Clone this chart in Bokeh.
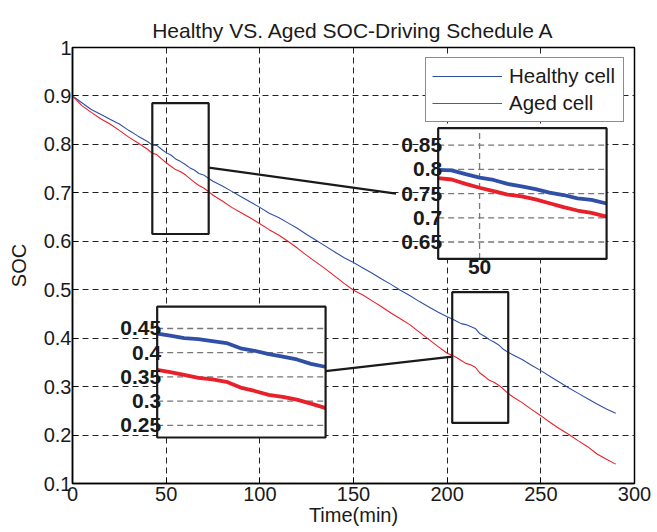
import numpy as np
from bokeh.plotting import figure
from bokeh.models import (FixedTicker, PrintfTickFormatter, Legend, LegendItem, Range1d)
from bokeh.core.properties import value
from bokeh.embed import file_html
from bokeh.resources import INLINE

# ---------------- data ----------------
time_min = [0, 5, 10, 15, 20, 25, 30, 35, 40,
            42.5, 45, 47.5, 50, 52.5, 55, 57.5, 60, 62.5, 65, 67.5, 70, 72.5,
            75, 80, 85, 90, 95, 100, 105, 110, 115, 120, 125, 130, 135, 140, 145,
            150, 155, 160, 165, 170, 175, 180, 185, 190, 195, 200,
            202.5, 205, 207.5, 210, 212.5, 215, 217.5, 220, 222.5, 225, 227.5, 230, 232.5,
            235, 240, 245, 250, 255, 260, 265, 270, 275, 280, 285, 290]
healthy_soc = [0.900, 0.886, 0.872, 0.862, 0.852, 0.842, 0.829, 0.817, 0.806,
               0.799, 0.798, 0.790, 0.783, 0.778, 0.770, 0.765, 0.759, 0.752, 0.747,
               0.740, 0.737, 0.730,
               0.724, 0.714, 0.703, 0.692, 0.681, 0.670, 0.658, 0.649, 0.638, 0.627,
               0.614, 0.602, 0.590, 0.578, 0.566,
               0.556, 0.545, 0.534, 0.522, 0.511, 0.499, 0.488, 0.476, 0.465, 0.454, 0.444,
               0.440, 0.435, 0.430, 0.428, 0.424, 0.420, 0.409, 0.404, 0.397, 0.392,
               0.386, 0.377, 0.371,
               0.366, 0.356, 0.344, 0.333, 0.321, 0.309, 0.297, 0.286, 0.275, 0.264,
               0.254, 0.245]
aged_soc = [0.900, 0.880, 0.866, 0.853, 0.842, 0.829, 0.815, 0.803, 0.790,
            0.782, 0.779, 0.770, 0.762, 0.755, 0.748, 0.744, 0.738, 0.730, 0.722,
            0.715, 0.710, 0.703,
            0.695, 0.683, 0.670, 0.659, 0.648, 0.636, 0.624, 0.613, 0.600, 0.586,
            0.571, 0.557, 0.543, 0.528, 0.513,
            0.499, 0.489, 0.477, 0.465, 0.452, 0.440, 0.428, 0.413, 0.398, 0.383, 0.369,
            0.365, 0.360, 0.354, 0.348, 0.345, 0.340, 0.328, 0.321, 0.313, 0.309,
            0.303, 0.295, 0.286,
            0.279, 0.267, 0.253, 0.240, 0.226, 0.213, 0.201, 0.188, 0.176, 0.161,
            0.150, 0.140]

x_ticks = [0, 50, 100, 150, 200, 250, 300]
y_ticks = [0.1, 0.2, 0.3, 0.4, 0.5, 0.6, 0.7, 0.8, 0.9, 1.0]
title_text = "Healthy VS. Aged SOC-Driving Schedule A"
x_label = "Time(min)"
y_label = "SOC"
series_names = ["Healthy cell", "Aged cell"]

# zoom insets: source window, inset box (main data coords), inset ticks, connector
upper_src_x = (42.6, 72.7)
upper_src_y = (0.615, 0.885)
upper_box_x = (195.2, 285.1)
upper_box_y = (0.5635, 0.8335)
upper_yticks = [0.65, 0.7, 0.75, 0.8, 0.85]
upper_ytick_labels = ["0.65", "0.7", "0.75", "0.8", "0.85"]
upper_xticks = [50]
upper_xtick_labels = ["50"]
upper_link_value = 0.752

lower_src_x = (202.7, 232.6)
lower_src_y = (0.225, 0.495)
lower_box_x = (45.2, 135.1)
lower_box_y = (0.195, 0.465)
lower_yticks = [0.25, 0.3, 0.35, 0.4, 0.45]
lower_ytick_labels = ["0.25", "0.3", "0.35", "0.4", "0.45"]
lower_link_value = 0.362

# ---------------- style ----------------
FONT = "Liberation Sans"
TXT = "#1a1a1a"
BLUE = "#3050a8"
RED = "#e8202a"

p = figure(width=657, height=532, output_backend="svg", toolbar_location=None,
           x_range=Range1d(0, 300), y_range=Range1d(0.1, 1.0),
           min_border_left=72, min_border_right=23, min_border_top=47,
           min_border_bottom=49, title=title_text)
p.title.text_font = FONT
p.title.text_font_size = "21px"
p.title.text_font_style = "normal"
p.title.text_color = TXT
p.title.align = "center"
p.title.vertical_align = "middle"
p.title.standoff = 10

p.outline_line_color = "black"
p.outline_line_width = 1.5
p.outline_line_alpha = 1

for ax in (p.xaxis[0], p.yaxis[0]):
    ax.axis_line_color = "black"
    ax.axis_line_width = 1.5
    ax.major_tick_in = 6
    ax.major_tick_out = 0
    ax.minor_tick_line_color = None
    ax.major_tick_line_color = "black"
    ax.major_label_text_font = FONT
    ax.major_label_text_font_size = "20px"
    ax.major_label_text_color = TXT
    ax.axis_label_text_font = FONT
    ax.axis_label_text_font_size = "20px"
    ax.axis_label_text_font_style = "normal"
    ax.axis_label_text_color = TXT

p.xaxis.ticker = FixedTicker(ticks=x_ticks)
p.yaxis.ticker = FixedTicker(ticks=y_ticks)
p.yaxis.formatter = PrintfTickFormatter(format="%g")
p.xaxis.major_label_standoff = 3
p.yaxis.major_label_standoff = 1
p.yaxis.axis_label = y_label
p.yaxis.axis_label_standoff = 11
p.xaxis.axis_label = x_label
p.xaxis.axis_label_standoff = 0

p.grid.grid_line_color = "#222222"
p.grid.grid_line_dash = "6 4"
p.grid.grid_line_width = 1
p.xgrid.ticker = FixedTicker(ticks=x_ticks)
p.ygrid.ticker = FixedTicker(ticks=y_ticks)

t = np.array(time_min, dtype=float)
h = np.array(healthy_soc, dtype=float)
a = np.array(aged_soc, dtype=float)

r_h = p.line(t, h, line_color=BLUE, line_width=1.1)
r_a = p.line(t, a, line_color=RED, line_width=1.1)


def draw_inset(src_x, src_y, box_x, box_y, yticks, ylabels, xticks, xlabels):
    sx0, sx1 = src_x
    sy0, sy1 = src_y
    bx0, bx1 = box_x
    by0, by1 = box_y

    def mx(x):
        return bx0 + (np.asarray(x, dtype=float) - sx0) / (sx1 - sx0) * (bx1 - bx0)

    def my(y):
        return by0 + (np.asarray(y, dtype=float) - sy0) / (sy1 - sy0) * (by1 - by0)

    # source rectangle in the main plot
    p.quad(left=[sx0], right=[sx1], bottom=[sy0], top=[sy1], fill_color=None,
           line_color="#1a1a1a", line_width=2.2)
    # inset background
    p.quad(left=[bx0], right=[bx1], bottom=[by0], top=[by1], fill_color="white",
           line_color=None)
    # inset grid
    p.segment(x0=[bx0] * len(yticks), y0=list(my(yticks)), x1=[bx1] * len(yticks),
              y1=list(my(yticks)), line_color="#777777", line_dash="6 4", line_width=1.3)
    if xticks:
        p.segment(x0=list(mx(xticks)), y0=[by0] * len(xticks), x1=list(mx(xticks)),
                  y1=[by1] * len(xticks), line_color="#777777", line_dash="6 4",
                  line_width=1.3)
    # zoomed series (clipped to the source window)
    for series, col in ((h, BLUE), (a, RED)):
        inside = (t > sx0) & (t < sx1)
        xs = np.concatenate([[sx0], t[inside], [sx1]])
        ys = np.concatenate([[np.interp(sx0, t, series)], series[inside],
                             [np.interp(sx1, t, series)]])
        p.line(mx(xs), my(ys), line_color=col, line_width=3.8)
    # inset frame
    p.quad(left=[bx0], right=[bx1], bottom=[by0], top=[by1], fill_color=None,
           line_color="#1a1a1a", line_width=2.2)
    # inset tick labels
    p.text(x=[bx0] * len(yticks), y=list(my(yticks)), text=ylabels,
           text_font=value(FONT), text_font_style="bold", text_font_size="21px",
           text_color=TXT, text_align="right", text_baseline="middle", x_offset=4)
    if xticks and xlabels:
        p.text(x=list(mx(xticks)), y=[by0] * len(xticks), text=xlabels,
               text_font=value(FONT), text_font_style="bold", text_font_size="21px",
               text_color=TXT, text_align="center", text_baseline="top", y_offset=1)
    return mx, my


umx, umy = draw_inset(upper_src_x, upper_src_y, upper_box_x, upper_box_y,
                      upper_yticks, upper_ytick_labels, upper_xticks, upper_xtick_labels)
lmx, lmy = draw_inset(lower_src_x, lower_src_y, lower_box_x, lower_box_y,
                      lower_yticks, lower_ytick_labels, [], [])

# connectors: same SOC value in source window and inset
label_gap = 22.5  # room for the inset tick labels, in minutes
p.line([upper_src_x[1], upper_box_x[0] - label_gap],
       [upper_link_value, float(umy(upper_link_value - 0.002))],
       line_color="#1a1a1a", line_width=2.2)
p.line([lower_src_x[0], lower_box_x[1]],
       [lower_link_value, float(lmy(lower_link_value))],
       line_color="#1a1a1a", line_width=2.2)

legend = Legend(items=[LegendItem(label=series_names[0], renderers=[r_h]),
                       LegendItem(label=series_names[1], renderers=[r_a])],
                location="top_right")
legend.label_text_font = FONT
legend.label_text_font_size = "20.5px"
legend.label_text_color = TXT
legend.glyph_width = 70
legend.glyph_height = 20
legend.label_height = 20
legend.label_width = 108
legend.label_standoff = 7
legend.spacing = 3
legend.padding = 6
legend.margin = 10
legend.border_line_color = "#1a1a1a"
legend.border_line_width = 1.5
legend.background_fill_color = "white"
legend.background_fill_alpha = 1
p.add_layout(legend)

open("out.html", "w").write(file_html(p, INLINE))
